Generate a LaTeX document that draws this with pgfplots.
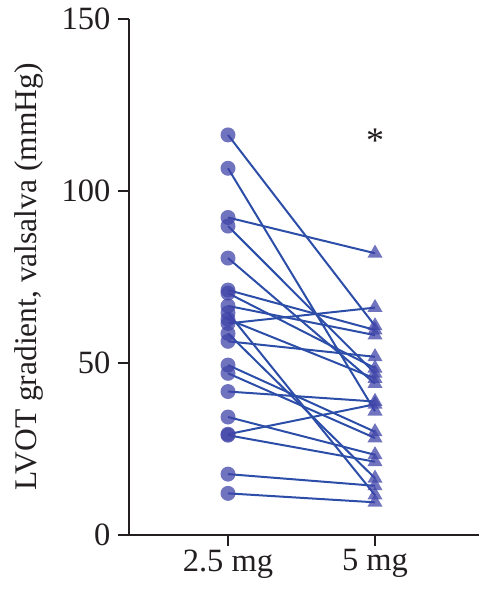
\documentclass[border=0pt]{standalone}
\usepackage{fontspec}
\setmainfont{Liberation Serif}
\usepackage{pgfplots}
\pgfplotsset{compat=1.18}
\usepackage{pgfplotstable}

\definecolor{markfill}{RGB}{64,68,168}
\definecolor{pairline}{RGB}{45,78,168}
\definecolor{axisgray}{RGB}{35,31,32}

% LVOT gradient at Valsalva for each patient: 2.5 mg (pre) and 5 mg (post)
\pgfplotstableread{
pre    post
116.3  60.8
106.6  36.0
92.3   81.9
89.8   47.0
80.5   44.0
71.2   59.6
70.3   48.5
66.6   58.1
64.6   11.6
62.7   45.5
61.5   66.1
58.6   16.5
56.3   51.8
49.4   30.0
47.0   28.2
41.7   38.8
34.3   23.3
29.3   38.0
29.0   21.3
17.7   14.3
12.1    9.5
}\gradients

\begin{document}
\begin{tikzpicture}
\useasboundingbox (0,0) rectangle (479pt,593pt);
\begin{axis}[
  at={(129pt,58pt)}, anchor=south west,
  width=350pt, height=516pt, scale only axis,
  xmin=0.3265, xmax=2.7075, ymin=0, ymax=150,
  axis x line=bottom, axis y line=left,
  axis line style={-, line width=1.5pt, color=axisgray},
  xtick={1,2}, xticklabels={2.5 mg, 5 mg},
  ytick={0,50,100,150},
  tick align=outside, major tick length=11pt,
  tick style={line width=1.5pt, color=axisgray},
  /pgf/number format/assume math mode=true,
  tick label style={font=\fontsize{32.5}{38}\selectfont, text=axisgray},
  yticklabel style={xshift=-4pt},
  label style={font=\fontsize{31.5}{37}\selectfont, text=axisgray},
  ylabel={LVOT gradient, valsalva (mmHg)},
  ylabel shift=12pt,
  clip=false,
]
% markers first, so the connecting lines lie on top of them
\addplot[only marks, mark=*, mark size=7.5pt,
  mark options={draw opacity=0, fill=markfill, fill opacity=0.75}]
  table[x expr=1, y=pre] {\gradients};
\addplot[only marks, mark=triangle*, mark size=8.7pt,
  mark options={draw opacity=0, fill=markfill, fill opacity=0.75}]
  table[x expr=2, y=post] {\gradients};
% one segment per patient
\pgfplotsinvokeforeach{0,...,20}{
  \pgfplotstablegetelem{#1}{pre}\of\gradients
  \let\gpre\pgfplotsretval
  \pgfplotstablegetelem{#1}{post}\of\gradients
  \let\gpost\pgfplotsretval
  \addplot[pairline, line width=2pt, no marks] coordinates {(1,\gpre) (2,\gpost)};
}
\node[text=axisgray, font=\fontsize{36}{36}\selectfont] at (axis cs:2,114.6) {*};
\end{axis}
\end{tikzpicture}
\end{document}
